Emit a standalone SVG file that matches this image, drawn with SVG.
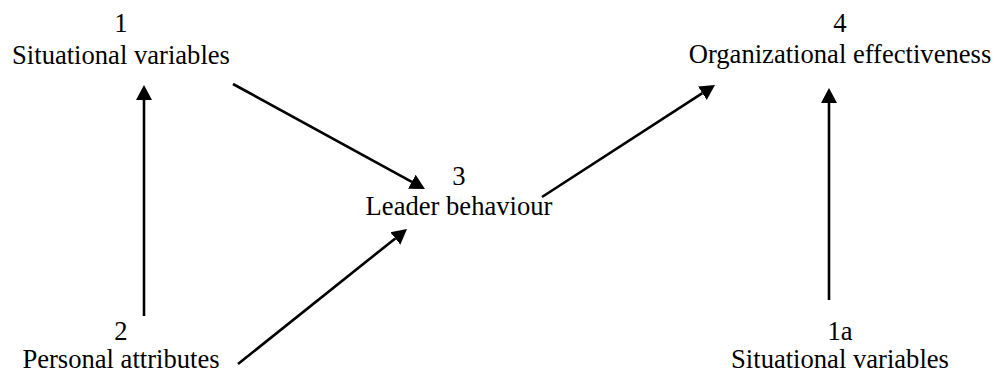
<svg xmlns="http://www.w3.org/2000/svg" width="995" height="374" viewBox="0 0 995 374">
  <style>
    text { font-size: 26.6px; fill: #000; text-anchor: middle; }
    .link { stroke: #000; stroke-width: 2.6; fill: none; marker-end: url(#head); }
  </style>
  <defs>
    <marker id="head" markerUnits="userSpaceOnUse" markerWidth="16" markerHeight="18" viewBox="0 -9 16 18" refX="0" refY="0" orient="auto">
      <path d="M0,-8 L15,0 L0,8 z" fill="#000"/>
    </marker>
  </defs>
  <rect width="995" height="374" fill="#fff"/>

  <g font-family="'Liberation Serif', 'DejaVu Serif', serif">
    <g id="node-1">
      <text x="121" y="32">1</text>
      <text x="121" y="64">Situational variables</text>
    </g>
    <g id="node-2">
      <text x="121" y="340">2</text>
      <text x="121" y="368">Personal attributes</text>
    </g>
    <g id="node-3">
      <text x="459" y="185">3</text>
      <text x="459" y="215">Leader behaviour</text>
    </g>
    <g id="node-4">
      <text x="840" y="32">4</text>
      <text x="840" y="63">Organizational effectiveness</text>
    </g>
    <g id="node-1a">
      <text x="840" y="340">1a</text>
      <text x="840" y="368">Situational variables</text>
    </g>
  </g>

  <g id="connectors">
    <line class="link" x1="233" y1="84" x2="411.8" y2="181.8"/>
    <line class="link" x1="144" y1="316" x2="144" y2="100"/>
    <line class="link" x1="238" y1="364" x2="395.3" y2="238.4"/>
    <line class="link" x1="542" y1="197" x2="702.4" y2="93.2"/>
    <line class="link" x1="829" y1="300" x2="829" y2="103"/>
  </g>
</svg>
